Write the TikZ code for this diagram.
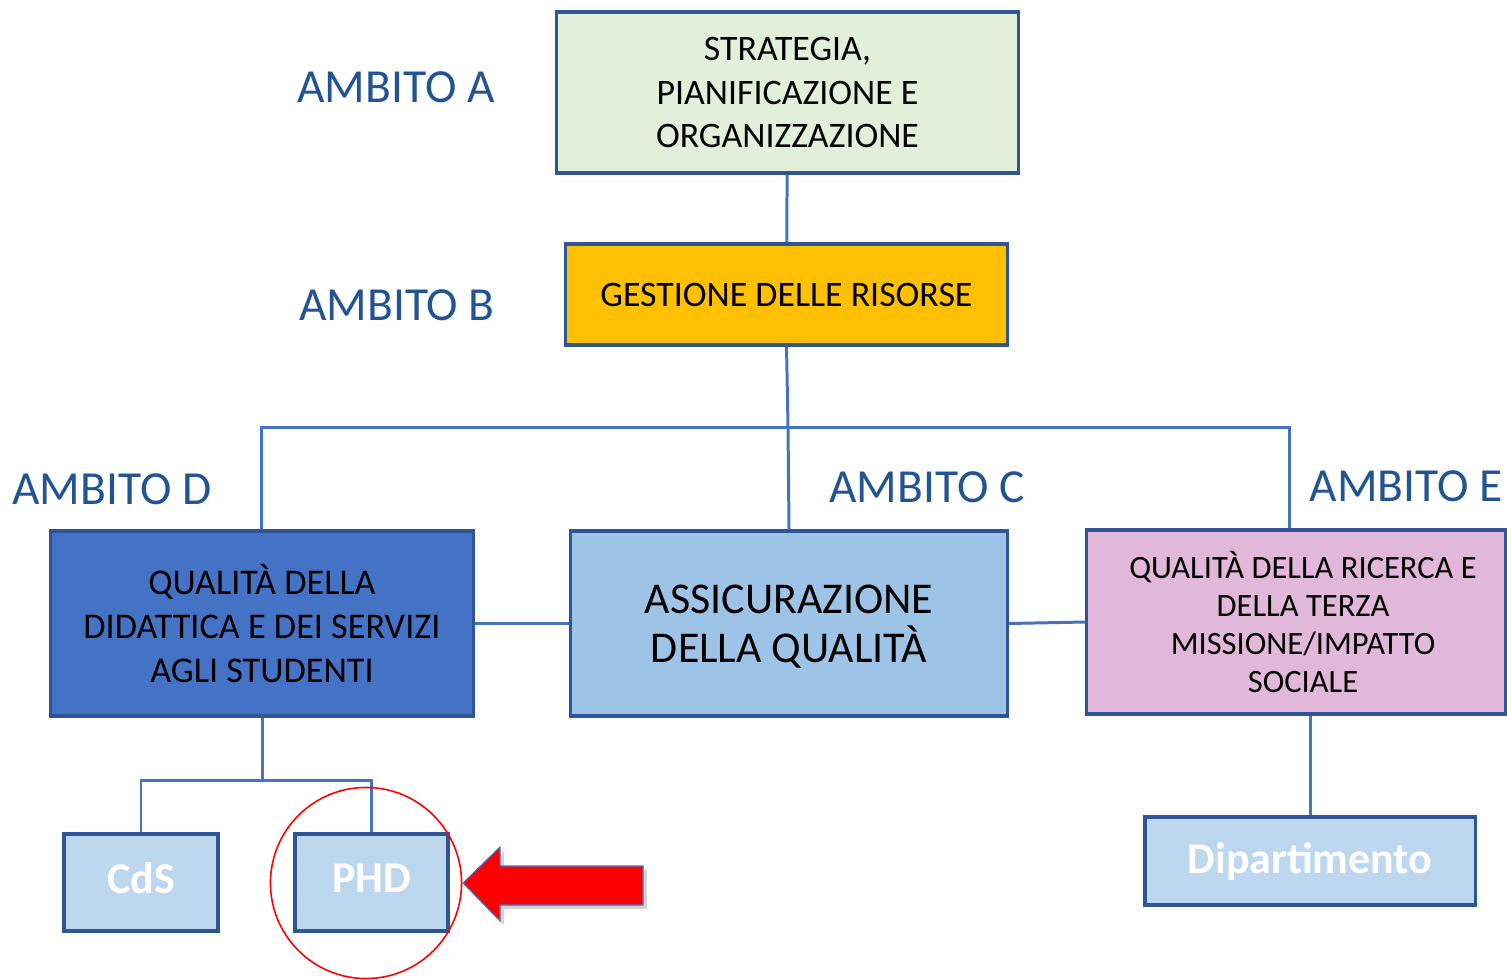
\documentclass[tikz,border=0pt]{standalone}
\usepackage{fontspec}
\setmainfont{Carlito}
\usetikzlibrary{positioning}
\usetikzlibrary{shadows}
\definecolor{mborder}{RGB}{47, 85, 151}
\definecolor{mline}{RGB}{68, 114, 196}
\definecolor{mlabel}{RGB}{34, 84, 148}
\definecolor{mgreen}{RGB}{226, 239, 218}
\definecolor{morange}{RGB}{255, 192, 0}
\definecolor{mdark}{RGB}{68, 114, 196}
\definecolor{mmid}{RGB}{157, 195, 230}
\definecolor{mpink}{RGB}{225, 183, 218}
\definecolor{mlight}{RGB}{189, 215, 238}
\tikzset{box/.style = {draw = mborder, line width = 0.9pt, align = center,
                       inner sep = 0, font = \fontsize{10.2}{12.3}\selectfont}}
\tikzset{small/.style = {box, font = \fontsize{12.5}{14}\selectfont\bfseries, text = white}}
\tikzset{ambito/.style = {text = mlabel, font = \fontsize{13.5}{16}\selectfont}}
\tikzset{link/.style = {draw = mline, line width = 0.85pt}}

\begin{document}
\begin{tikzpicture}[x = 0.01cm, y = -0.01cm]
      \useasboundingbox (0, 0) rectangle (1507, 979);

      \node [box, fill = mgreen, minimum width = 4.61cm, minimum height = 1.61cm] (stratA) at (787.5, 92.5)
            {STRATEGIA,\\ PIANIFICAZIONE E\\ ORGANIZZAZIONE};
      \node [box, fill = morange, minimum width = 4.41cm, minimum height = 1.01cm] (risorseB) at (786.5, 294.5)
            {GESTIONE DELLE RISORSE};
      \node [box, fill = mdark, minimum width = 4.22cm, minimum height = 1.85cm,
             font = \fontsize{10.3}{12.5}\selectfont] (didatticaD) at (262, 623.5)
            {QUALITÀ DELLA\\ DIDATTICA E DEI SERVIZI\\ AGLI STUDENTI};
      \node [box, fill = mmid, minimum width = 4.36cm, minimum height = 1.85cm,
             font = \fontsize{12.5}{15.1}\selectfont] (aqC) at (789, 623.5)
            {\raisebox{-0.04cm}[\height][\depth]{\begin{tabular}{@{}c@{}}ASSICURAZIONE\\[-1.2pt] DELLA QUALITÀ\end{tabular}}};
      \node [box, fill = mpink, minimum width = 4.18cm, minimum height = 1.84cm,
             font = \fontsize{9.25}{10.8}\selectfont] (ricercaE) at (1296, 622)
            {\hspace*{0.14cm}\raisebox{-0.06cm}[\height][\depth]{\begin{tabular}{@{}c@{}}QUALITÀ DELLA RICERCA E\\ DELLA TERZA\\ MISSIONE/IMPATTO\\ SOCIALE\end{tabular}}};

      \node [small, fill = mlight, minimum width = 1.54cm, minimum height = 0.97cm] (cds) at (141, 882.5)
            {\raisebox{0.04cm}[\height][\depth]{CdS}};
      \node [small, fill = mlight, minimum width = 1.53cm, minimum height = 0.97cm] (phd) at (371.5, 882.5)
            {\raisebox{0.04cm}[\height][\depth]{PHD}};
      \node [small, fill = mlight, minimum width = 3.30cm, minimum height = 0.88cm] (dip) at (1310, 861) {Dipartimento};

      \node [ambito] (ambA) at (396, 87) {AMBITO A};
      \node [ambito] (ambB) at (397, 305) {AMBITO B};
      \node [ambito] (ambD) at (112, 489) {AMBITO D};
      \node [ambito] (ambC) at (927, 487) {AMBITO C};
      \node [ambito] (ambE) at (1406, 486) {AMBITO E};

      \coordinate (hub) at (788, 427);
      \coordinate (split) at (262, 780);

      \draw [link] (stratA) -- (risorseB);
      \draw [link] (risorseB.south) -- (hub);
      \draw [link] (didatticaD.north -| 261, 0) |- (hub) -| ([xshift = -0.07cm]ricercaE.north);
      \draw [link] (hub) -- (aqC.north);
      \draw [link] (didatticaD.east) -- (aqC.west);
      \draw [link] (aqC.east) -- (ricercaE.west);
      \draw [link] (didatticaD.south) -- (split);
      \draw [link] (cds.north) |- (split) -| (phd.north);
      \draw [link] (ricercaE.south -| dip.north) -- (dip.north);

      \draw [red, line width = 0.45pt] (366, 883) circle [radius = 0.955cm];

      \draw [fill = red, draw = mline, line width = 0.3pt,
             drop shadow = {opacity = 0.35, shadow xshift = 0.04cm, shadow yshift = -0.04cm}]
            (463, 883) -- (500, 847) -- (500, 866) -- (643, 866) -- (643, 905) -- (500, 905) -- (500, 921) -- cycle;
    \end{tikzpicture}
\end{document}
